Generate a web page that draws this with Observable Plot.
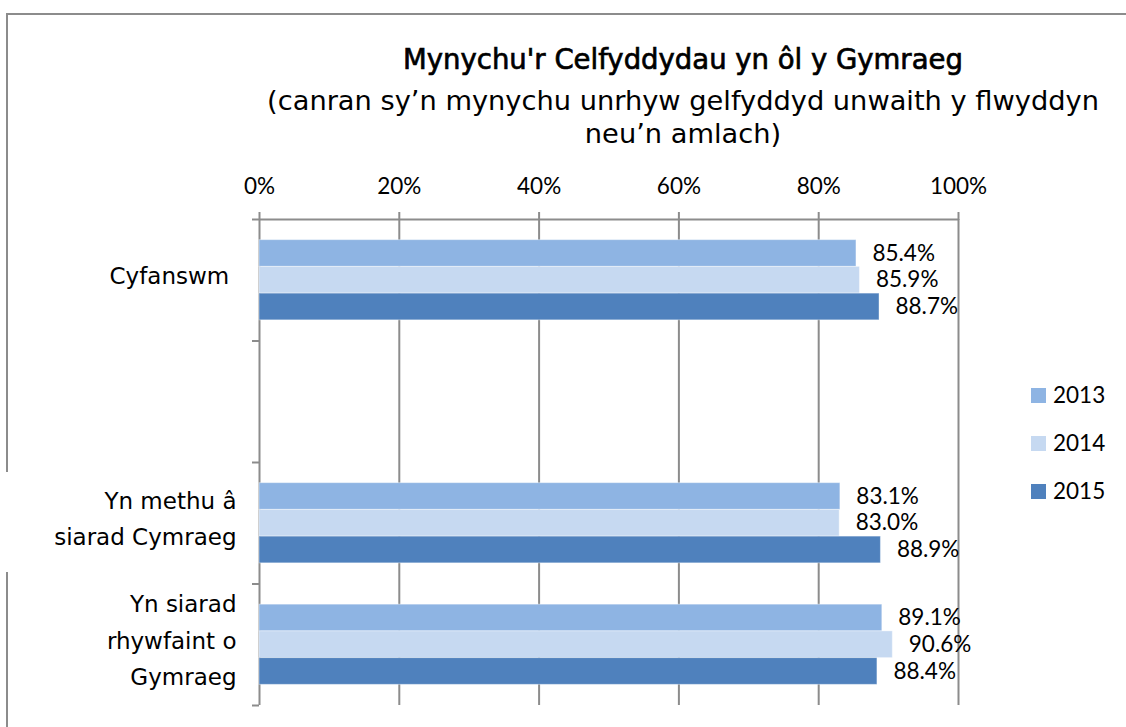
<!DOCTYPE html>
<html><head><meta charset="utf-8">
<script src="https://cdn.jsdelivr.net/npm/d3@7"></script>
<script src="https://cdn.jsdelivr.net/npm/@observablehq/plot@0.6"></script>
<style>
html,body{margin:0;padding:0;background:#fff;overflow:hidden;}
#wrap{position:relative;width:1126px;height:727px;overflow:hidden;background:#fff;}
#frame{position:absolute;left:6px;top:13px;width:1300px;height:900px;border:2px solid #8c8c8c;box-sizing:border-box;}
#patch{position:absolute;left:0;top:472px;width:14px;height:100px;background:#fff;}
.t{position:absolute;left:683px;white-space:nowrap;font-family:"DejaVu Sans";color:#000;transform:translateX(-50%);line-height:1;}
#chart{position:absolute;left:0;top:160px;}
.legsw{position:absolute;width:15px;height:15px;}
.legtx{position:absolute;font-family:Lato;font-size:22.5px;line-height:1;color:#000;}
</style></head>
<body><div id="wrap">
<div id="frame"></div><div id="patch"></div>
<div id="title" class="t"></div><div id="sub1" class="t"></div><div id="sub2" class="t"></div>
<div id="chart"></div><div id="legend"></div>
</div>
<script>
const categories = ["Cyfanswm\u00a0", "", "Yn methu â\nsiarad Cymraeg", "Yn siarad\nrhywfaint o\nGymraeg"];
const years = ["2013", "2014", "2015"];
const values2013 = [85.4, null, 83.1, 89.1];
const values2014 = [85.9, null, 83.0, 90.6];
const values2015 = [88.7, null, 88.9, 88.4];
const colors = ["#8EB4E3", "#C6D9F1", "#4F81BD"];
const xTicks = [0, 20, 40, 60, 80, 100];
const titleText = "Mynychu'r Celfyddydau yn ôl y Gymraeg";
const subtitleLines = ["(canran sy’n mynychu unrhyw gelfyddyd unwaith y flwyddyn", "neu’n amlach)"];

// title / subtitle
function fit(text, weight, target) {
  const c = document.createElement("canvas").getContext("2d");
  c.font = `${weight} 100px "DejaVu Sans"`;
  return 100 * target / c.measureText(text).width;
}
const ts = fit(titleText, "normal", 560);
const ss = fit(subtitleLines[0], "normal", 832);
const tEl = document.getElementById("title");
tEl.textContent = titleText; tEl.style.fontSize = ts + "px";
tEl.style.webkitTextStroke = "0.7px #000";
tEl.style.top = (69 - 0.846 * ts) + "px";
const s1 = document.getElementById("sub1"), s2 = document.getElementById("sub2");
s1.textContent = subtitleLines[0]; s2.textContent = subtitleLines[1];
s1.style.fontSize = s2.style.fontSize = ss + "px";
s1.style.top = (110 - 0.846 * ss) + "px";
s2.style.top = (143 - 0.846 * ss) + "px";

// data table
const series = [values2013, values2014, values2015];
const bars = [];
categories.forEach((c, ci) => years.forEach((yr, yi) => {
  const v = series[yi][ci];
  if (v != null) bars.push({ci, yi, year: yr, value: v});
}));
const catRows = categories.map((c, i) => ({c, i}));
const PAD = 0.17, STEP = 0.22;
const grid = "#8c8c8c";

const chart = Plot.plot({
  width: 1126, height: 567,
  marginTop: 59, marginBottom: 22, marginLeft: 259, marginRight: 168,
  x: {domain: [0, 100], label: null},
  y: {domain: [0, 4], reverse: true, label: null},
  color: {domain: years, range: colors},
  style: {fontFamily: "Lato", fontSize: "22.5px", color: "black", background: "transparent", overflow: "visible"},
  marks: [
    Plot.ruleX(xTicks, {x: d => d, y1: 0, y2: 4, stroke: grid, strokeWidth: 2}),
    Plot.rect(bars, {x1: 0, x2: "value", y1: d => d.ci + PAD + d.yi * STEP, y2: d => d.ci + PAD + (d.yi + 1) * STEP, fill: "year", stroke: "white", strokeOpacity: 0.4, strokeWidth: 1}),
    Plot.ruleY([0], {stroke: grid, strokeWidth: 2}),
    Plot.axisX({anchor: "top", ticks: xTicks, tickFormat: d => d + "%", tickSize: 8, tickPadding: 18, stroke: grid, strokeWidth: 2, fontSize: 22.5, label: null}),
    Plot.axisY({anchor: "left", ticks: [0, 1, 2, 3, 4], tickSize: 7, tickFormat: () => "", stroke: grid, strokeWidth: 2, label: null}),
    Plot.text(catRows, {x: d => 0, y: d => d.i + 0.5, text: "c", textAnchor: "end", dx: -23, dy: -8, lineHeight: 1.6, fontFamily: "DejaVu Sans", fontSize: 23, fill: "black"}),
    Plot.text(bars, {x: "value", y: d => d.ci + PAD + (d.yi + 0.5) * STEP, text: d => d.value.toFixed(1) + "%", dx: 16, textAnchor: "start", fontFamily: "Lato", fontSize: 22.5, fill: "black"})
  ]
});
document.getElementById("chart").appendChild(chart);

// legend
const leg = document.getElementById("legend");
years.forEach((yr, i) => {
  const sw = document.createElement("div");
  sw.className = "legsw"; sw.style.left = "1031px"; sw.style.top = (388 + i * 48) + "px"; sw.style.background = colors[i];
  const tx = document.createElement("div");
  tx.className = "legtx"; tx.style.left = "1053px"; tx.style.top = (384 + i * 48) + "px"; tx.textContent = yr;
  leg.appendChild(sw); leg.appendChild(tx);
});
</script>
</body></html>
